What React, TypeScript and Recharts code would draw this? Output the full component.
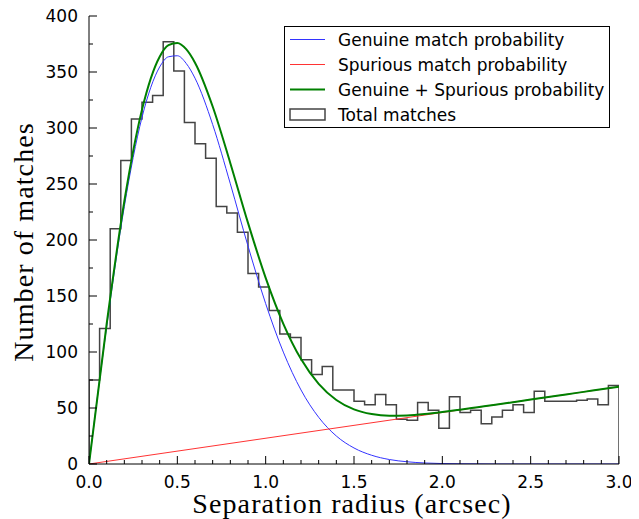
import React from 'react';
import { ComposedChart, Line, XAxis, YAxis, Legend } from 'recharts';

// ---- data ----
const binWidth = 0.06;
const histCounts = [
  75, 121, 210, 271, 308, 323, 329, 377, 351, 305,
  286, 273, 230, 224, 207, 170, 158, 137, 116, 113,
  93, 80, 87, 66, 66, 56, 53, 62, 53, 40,
  39, 55, 48, 32, 60, 46, 48, 36, 42, 48,
  53, 46, 65, 56, 56, 56, 57, 58, 53, 70,
];

const curveR = [0, 0.1, 0.2, 0.3, 0.4, 0.45, 0.5, 0.55, 0.6, 0.7, 0.8, 0.9, 1.0, 1.1, 1.2, 1.3, 1.4, 1.5, 1.6, 1.7, 1.8, 1.9, 2.0, 2.1, 2.2, 2.3, 2.4, 2.5, 2.6, 2.7, 2.8, 2.9, 3.0];
const genuineValues = [0, 122.7, 230.0, 309.5, 354.5, 363.6, 364.5, 357.7, 344.5, 303.1, 250.2, 194.6, 143.2, 99.9, 66.1, 41.7, 25.0, 14.3, 7.8, 4.0, 2.0, 0.9, 0.4, 0.2, 0.1, 0, 0, 0, 0, 0, 0, 0, 0];
const combinedValues = [0, 125.0, 234.6, 316.4, 363.7, 374.0, 376.0, 370.4, 358.3, 319.2, 268.6, 215.3, 166.2, 125.2, 93.7, 71.6, 57.2, 48.8, 44.6, 43.1, 43.4, 44.6, 46.4, 48.5, 50.7, 52.9, 55.2, 57.5, 59.8, 62.1, 64.4, 66.7, 69.0];
const spuriousR = [0, 3.0];
const spuriousValues = [0, 69];

const xTicks = [0, 0.1, 0.2, 0.3, 0.4, 0.5, 0.6, 0.7, 0.8, 0.9, 1.0, 1.1, 1.2, 1.3, 1.4, 1.5, 1.6, 1.7, 1.8, 1.9, 2.0, 2.1, 2.2, 2.3, 2.4, 2.5, 2.6, 2.7, 2.8, 2.9, 3.0];
const yTicks = [0, 25, 50, 75, 100, 125, 150, 175, 200, 225, 250, 275, 300, 325, 350, 375, 400];

const legendNames = ['Genuine match probability', 'Spurious match probability', 'Genuine + Spurious probability', 'Total matches'];
const legendColors = ['#3333ff', '#ff3333', '#008000', '#444444'];

// ---- derived tables ----
const genuineData = curveR.map((r, i) => ({ x: r, y: genuineValues[i] }));
const combinedData = curveR.map((r, i) => ({ x: r, y: combinedValues[i] }));
const spuriousData = spuriousR.map((r, i) => ({ x: r, y: spuriousValues[i] }));
const lastEdge = histCounts.length * binWidth;
const histData = [
  { x: 0, y: 0 },
  ...histCounts.map((c, i) => ({ x: i * binWidth, y: c })),
  { x: lastEdge, y: histCounts[histCounts.length - 1] },
  { x: lastEdge, y: 0 },
];

const TICK_FONT = 'DejaVu Sans';
const isMajor = (v: number, step: number) => Math.abs(v / step - Math.round(v / step)) < 1e-6;

const BottomTick = (props: any) => {
  const { x, y, payload } = props;
  const v = payload.value;
  const major = isMajor(v, 0.5);
  return (
    <g>
      <line x1={x} x2={x} y1={y} y2={y - (major ? 8 : 4)} stroke="#000" strokeWidth={1} />
      {major && (
        <text x={x} y={y + 24} textAnchor="middle" fontFamily={TICK_FONT} fontSize={17} fill="#000">
          {v.toFixed(1)}
        </text>
      )}
    </g>
  );
};

const TopTick = (props: any) => {
  const { x, y, payload } = props;
  const major = isMajor(payload.value, 0.5);
  return <line x1={x} x2={x} y1={y} y2={y + (major ? 8 : 4)} stroke="#000" strokeWidth={1} />;
};

const LeftTick = (props: any) => {
  const { x, y, payload } = props;
  const v = payload.value;
  const major = isMajor(v, 50);
  return (
    <g>
      <line x1={x} x2={x + (major ? 8 : 4)} y1={y} y2={y} stroke="#000" strokeWidth={1} />
      {major && (
        <text x={x - 11} y={y + 6} textAnchor="end" fontFamily={TICK_FONT} fontSize={17} fill="#000">
          {v}
        </text>
      )}
    </g>
  );
};

const RightTick = (props: any) => {
  const { x, y, payload } = props;
  const major = isMajor(payload.value, 50);
  return <line x1={x} x2={x - (major ? 8 : 4)} y1={y} y2={y} stroke="#000" strokeWidth={1} />;
};

const LegendBox = () => (
  <div
    style={{
      boxSizing: 'border-box',
      width: 326,
      height: 102,
      border: '1px solid #000',
      background: '#fff',
      fontFamily: TICK_FONT,
      fontSize: 17,
      color: '#000',
    }}
  >
    {legendNames.map((name, i) => (
      <div key={name} style={{ height: 25, display: 'flex', alignItems: 'center', whiteSpace: 'nowrap' }}>
        <svg width={53} height={25} style={{ display: 'block', flex: 'none' }}>
          {i < 3 ? (
            <line x1={5} x2={40} y1={12.5} y2={12.5} stroke={legendColors[i]} strokeWidth={i === 2 ? 2 : 1} />
          ) : (
            <rect x={5} y={7} width={35} height={11} fill="none" stroke={legendColors[i]} strokeWidth={1.5} />
          )}
        </svg>
        <span>{name}</span>
      </div>
    ))}
  </div>
);

export default function App() {
  const W = 631;
  const H = 511;
  return (
    <div style={{ position: 'relative', width: W, height: H }}>
      <ComposedChart
        width={W}
        height={H}
        margin={{ top: 8, right: 20, bottom: 0, left: 0 }}
        style={{ overflow: 'visible' }}
      >
        <XAxis
          xAxisId="bottom"
          dataKey="x"
          type="number"
          domain={[0, 3]}
          ticks={xTicks}
          interval={0}
          orientation="bottom"
          height={55}
          tickSize={0}
          tickMargin={0}
          tickLine={false}
          tick={BottomTick}
          axisLine={{ stroke: '#000', strokeWidth: 1 }}
          allowDataOverflow
        />
        <XAxis
          xAxisId="top"
          type="number"
          domain={[0, 3]}
          ticks={xTicks}
          interval={0}
          orientation="top"
          height={0}
          tickSize={0}
          tickMargin={0}
          tickLine={false}
          tick={TopTick}
          axisLine={{ stroke: '#000', strokeWidth: 1 }}
          allowDataOverflow
        />
        <YAxis
          yAxisId="left"
          type="number"
          domain={[0, 400]}
          ticks={yTicks}
          interval={0}
          orientation="left"
          width={81}
          tickSize={0}
          tickMargin={0}
          tickLine={false}
          tick={LeftTick}
          axisLine={{ stroke: '#000', strokeWidth: 1 }}
          allowDataOverflow
        />
        <YAxis
          yAxisId="right"
          type="number"
          domain={[0, 400]}
          ticks={yTicks}
          interval={0}
          orientation="right"
          width={0}
          tickSize={0}
          tickMargin={0}
          tickLine={false}
          tick={RightTick}
          axisLine={{ stroke: '#000', strokeWidth: 1 }}
          allowDataOverflow
        />
        <Legend
          layout="vertical"
          align="center"
          verticalAlign="middle"
          content={LegendBox}
          wrapperStyle={{ position: 'absolute', left: 276, top: 18, width: 326, height: 102 }}
        />
        <Line
          xAxisId="bottom"
          yAxisId="left"
          data={histData}
          dataKey="y"
          type="stepAfter"
          stroke="#444444"
          strokeWidth={1.5}
          dot={false}
          activeDot={false}
          isAnimationActive={false}
        />
        <Line
          xAxisId="bottom"
          yAxisId="left"
          data={genuineData}
          dataKey="y"
          type="monotone"
          stroke="#3333ff"
          strokeWidth={1}
          dot={false}
          activeDot={false}
          isAnimationActive={false}
        />
        <Line
          xAxisId="bottom"
          yAxisId="left"
          data={spuriousData}
          dataKey="y"
          type="linear"
          stroke="#ff3333"
          strokeWidth={1}
          dot={false}
          activeDot={false}
          isAnimationActive={false}
        />
        <Line
          xAxisId="bottom"
          yAxisId="left"
          data={combinedData}
          dataKey="y"
          type="monotone"
          stroke="#008000"
          strokeWidth={2}
          dot={false}
          activeDot={false}
          isAnimationActive={false}
        />
      </ComposedChart>
      <svg
        width={W}
        height={H}
        style={{ position: 'absolute', left: 0, top: 0, pointerEvents: 'none', overflow: 'visible' }}
      >
        <text
          x={344}
          y={505}
          textAnchor="middle"
          fontFamily="Liberation Serif"
          fontSize={28}
          letterSpacing={1.1}
          fill="#000"
        >
          Separation radius (arcsec)
        </text>
        <text
          x={25}
          y={234}
          textAnchor="middle"
          fontFamily="Liberation Serif"
          fontSize={28}
          letterSpacing={1.1}
          fill="#000"
          transform="rotate(-90, 25, 234)"
        >
          Number of matches
        </text>
      </svg>
    </div>
  );
}
